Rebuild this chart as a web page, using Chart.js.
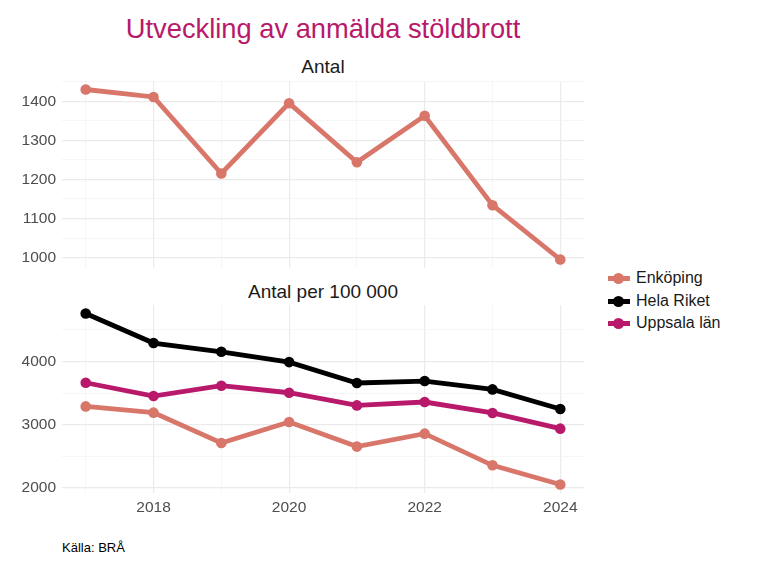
<!DOCTYPE html>
<html>
<head>
<meta charset="utf-8">
<script src="https://cdn.jsdelivr.net/npm/chart.js@4.4.1/dist/chart.umd.min.js"></script>
<style>
    body { margin: 0; background: #fff; font-family: "Liberation Sans", Arial, sans-serif; }
    #page { position: relative; width: 768px; height: 576px; overflow: hidden; }
    .txt { position: absolute; white-space: nowrap; }
    #title { left: 0; width: 646px; top: 13px; text-align: center; font-size: 27.3px; color: #b8196b; }
    .strip { left: 62px; width: 522px; text-align: center; font-size: 19px; color: #1a1a1a; }
    #caption { left: 62px; top: 540px; font-size: 13px; color: #000; }
    .box { position: absolute; left: 0; width: 584px; }
    #legend { position: absolute; left: 607px; top: 267px; }
    .item { position: relative; height: 22.7px; width: 150px; font-size: 16px; color: #1a1a1a; white-space: nowrap; }
    .item .ln { position: absolute; left: 1px; top: 9px; width: 22px; height: 5px; }
    .item .pt { position: absolute; left: 6px; top: 6px; width: 11px; height: 11px; border-radius: 50%; }
    .item span { position: absolute; left: 29px; top: 2px; }
</style>
</head>
<body>
<div id="page">
    <div id="title" class="txt">Utveckling av anmälda stöldbrott</div>
    <div class="txt strip" style="top: 56px;">Antal</div>
    <div class="txt strip" style="top: 281px;">Antal per 100 000</div>
    <div class="box" style="top: 81px; height: 187px;"><canvas id="topChart"></canvas></div>
    <div class="box" style="top: 305px; height: 213px;"><canvas id="bottomChart"></canvas></div>
    <div id="legend"></div>
    <div id="caption" class="txt">Källa: BRÅ</div>
</div>

<script>
// data
const years = [2017, 2018, 2019, 2020, 2021, 2022, 2023, 2024];
const seriesNames = ["Enköping", "Hela Riket", "Uppsala län"];
const seriesColors = ["#d8766a", "#000000", "#b8196b"];

const enkopingAntal = [1430, 1411, 1215, 1395, 1244, 1363, 1134, 995];
const enkopingPer100k = [3289, 3190, 2711, 3043, 2653, 2858, 2357, 2054];
const rikePer100k = [4758, 4291, 4153, 3990, 3659, 3690, 3558, 3248];
const uppsalaPer100k = [3663, 3453, 3616, 3505, 3305, 3358, 3185, 2937];

const topMajor = [1000, 1100, 1200, 1300, 1400];
const topMinor = [1050, 1150, 1250, 1350, 1450];
const bottomMajor = [2000, 3000, 4000];
const bottomMinor = [2500, 3500, 4500];
const xMajor = [2018, 2020, 2022, 2024];
const xMinor = [2017, 2019, 2021, 2023];

// helpers
function points(values) {
    return values.map(function (v, i) {
        return { x: years[i], y: v };
    });
}

function expand(values) {
    const lo = Math.min.apply(null, values);
    const hi = Math.max.apply(null, values);
    const pad = (hi - lo) * 0.05;
    return { min: lo - pad, max: hi + pad };
}

function dataset(name, values) {
    const color = seriesColors[seriesNames.indexOf(name)];
    return {
        label: name,
        data: points(values),
        borderColor: color,
        backgroundColor: color,
        borderWidth: 4.8,
        pointRadius: 5.3,
        pointBorderWidth: 0,
        pointHoverRadius: 5.3,
        tension: 0,
        clip: false
    };
}

function tickSetter(major, minor) {
    return function (axis) {
        axis.ticks = major.concat(minor).sort(function (a, b) { return a - b; })
            .map(function (v) { return { value: v }; });
    };
}

function gridFor(major) {
    return {
        drawTicks: false,
        color: function (ctx) {
            return major.indexOf(ctx.tick.value) >= 0 ? "#ebebeb" : "#f2f2f2";
        },
        lineWidth: function (ctx) {
            return major.indexOf(ctx.tick.value) >= 0 ? 1.2 : 0.7;
        }
    };
}

const tickFont = { family: "Liberation Sans", size: 15.5 };
const xRange = { min: 2017 - 0.35, max: 2024 + 0.35 };

function makeChart(id, datasets, yMajor, yMinor, yRange, showX) {
    return new Chart(document.getElementById(id), {
        type: "line",
        data: { datasets: datasets },
        options: {
            responsive: true,
            maintainAspectRatio: false,
            animation: false,
            layout: { autoPadding: false, padding: 0 },
            plugins: {
                legend: { display: false },
                tooltip: { enabled: false }
            },
            scales: {
                x: {
                    type: "linear",
                    min: xRange.min,
                    max: xRange.max,
                    afterBuildTicks: tickSetter(xMajor, xMinor),
                    afterFit: function (scale) {
                        scale.height = showX ? 25 : 0;
                        scale.paddingLeft = 0;
                        scale.paddingRight = 0;
                    },
                    border: { display: false },
                    grid: gridFor(xMajor),
                    ticks: {
                        display: showX,
                        padding: 5,
                        color: "#4d4d4d",
                        font: tickFont,
                        maxRotation: 0,
                        autoSkip: false,
                        callback: function (value) {
                            return xMajor.indexOf(value) >= 0 ? String(value) : "";
                        }
                    }
                },
                y: {
                    min: yRange.min,
                    max: yRange.max,
                    afterBuildTicks: tickSetter(yMajor, yMinor),
                    afterFit: function (scale) {
                        scale.width = 62;
                        scale.paddingTop = 0;
                        scale.paddingBottom = 0;
                    },
                    border: { display: false },
                    grid: gridFor(yMajor),
                    ticks: {
                        padding: 6,
                        color: "#4d4d4d",
                        font: tickFont,
                        autoSkip: false,
                        callback: function (value) {
                            return yMajor.indexOf(value) >= 0 ? String(value) : "";
                        }
                    }
                }
            }
        }
    });
}

makeChart("topChart", [dataset("Enköping", enkopingAntal)],
    topMajor, topMinor, expand(enkopingAntal), false);

makeChart("bottomChart", [
        dataset("Uppsala län", uppsalaPer100k),
        dataset("Hela Riket", rikePer100k),
        dataset("Enköping", enkopingPer100k)
    ],
    bottomMajor, bottomMinor,
    expand(enkopingPer100k.concat(rikePer100k, uppsalaPer100k)), true);

// legend
const legend = document.getElementById("legend");
seriesNames.forEach(function (name, i) {
    const item = document.createElement("div");
    item.className = "item";
    item.innerHTML = '<div class="ln" style="background:' + seriesColors[i] + '"></div>' +
        '<div class="pt" style="background:' + seriesColors[i] + '"></div>' +
        '<span>' + name + '</span>';
    legend.appendChild(item);
});
</script>
</body>
</html>
